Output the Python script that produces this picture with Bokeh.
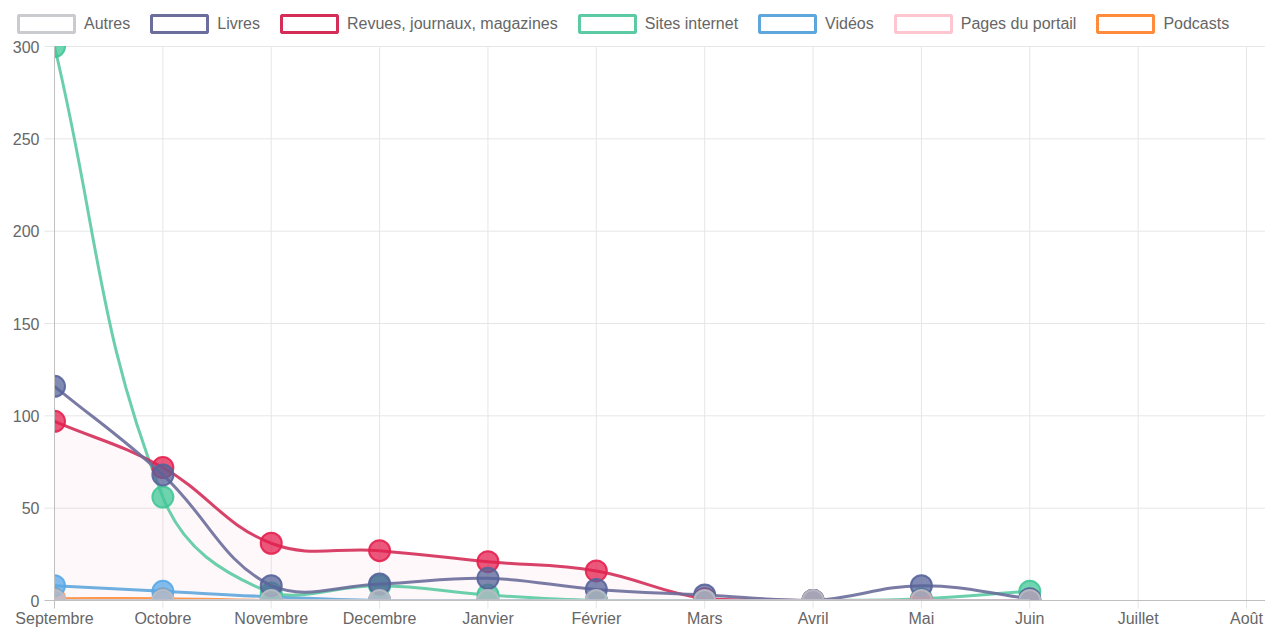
import numpy as np
from bokeh.plotting import figure
from bokeh.models import Range1d, Legend, LegendItem, ColumnDataSource
from bokeh.core.properties import value
from bokeh.embed import file_html
from bokeh.resources import INLINE

# ---------------- data ----------------
months = ["Septembre", "Octobre", "Novembre", "Decembre", "Janvier", "Février",
          "Mars", "Avril", "Mai", "Juin", "Juillet", "Août"]
series_names = ["Autres", "Livres", "Revues, journaux, magazines", "Sites internet",
                "Vidéos", "Pages du portail", "Podcasts"]
autres = [0, 0, 0, 0, 0, 0, 0, 0, 0, 0]
livres = [116, 68, 8, 9, 12, 6, 3, 0, 8, 1]
revues = [97, 72, 31, 27, 21, 16, 1, 0, 0, 0]
sites = [300, 56, 4, 8, 3, 0, 0, 0, 1, 5]
videos = [8, 5, 2, 0, 0, 0, 0, 0, 0, 0]
pages = [0, 0, 0, 0, 0, 0, 0, 0, 0, 0]
podcasts = [1, 1, 0, 0, 0, 0, 0, 0, 0, 0]
y_ticks = [0, 50, 100, 150, 200, 250, 300]
y_tick_labels = ["0", "50", "100", "150", "200", "250", "300"]

series_values = [autres, livres, revues, sites, videos, pages, podcasts]
line_colors = ["#c9cbcf", "#6b6d9a", "#d42d58", "#5ccaa3", "#5fa6dc", "#ffc6d0", "#ff8c3c"]
point_colors = ["#b9bcc4", "#56639a", "#e4204f", "#40c797", "#58a8e8", "#ffbfcb", "#ff8a36"]

# ---------------- layout (pixels) ----------------
W, H = 1265, 628
AREA_L, AREA_T, AREA_B = 54, 46, 600      # chart area edges
STEP = (1246 - AREA_L) / 11               # px per category
YMAX = 300.0
SX = STEP
SY = (AREA_B - AREA_T) / YMAX
TENSION = 0.4
XMAX = (W - AREA_L) / SX

x_start, x_end = -AREA_L / SX, XMAX
y_start, y_end = -(H - AREA_B) / SY, YMAX + AREA_T / SY

p = figure(width=W, height=H, output_backend="svg", toolbar_location=None,
           x_range=Range1d(x_start, x_end), y_range=Range1d(y_start, y_end),
           x_axis_type=None, y_axis_type=None,
           min_border_left=0, min_border_right=0, min_border_top=0, min_border_bottom=0)
p.outline_line_color = None
p.background_fill_color = "white"
p.border_fill_color = "white"

font = "Liberation Sans"
GRID = "#e6e6e6"
ZERO = "#c0c0c0"
xs_idx = list(range(len(months)))

# grid lines inside the chart area
p.segment(x0=xs_idx[1:], y0=0, x1=xs_idx[1:], y1=YMAX, line_color=GRID, line_width=1)
p.segment(x0=0, y0=y_ticks[1:], x1=XMAX, y1=y_ticks[1:], line_color=GRID, line_width=1)


def controls(vals):
    n = len(vals)
    xs = np.arange(n, dtype=float)
    ys = np.array(vals, dtype=float)
    prev_c, next_c = [], []
    for i in range(n):
        a, b = max(i - 1, 0), min(i + 1, n - 1)
        d01 = np.hypot((xs[i] - xs[a]) * SX, (ys[i] - ys[a]) * SY)
        d12 = np.hypot((xs[b] - xs[i]) * SX, (ys[b] - ys[i]) * SY)
        tot = d01 + d12
        s01 = d01 / tot if tot else 0.0
        s12 = d12 / tot if tot else 0.0
        dx, dy = xs[b] - xs[a], ys[b] - ys[a]
        pc = [xs[i] - TENSION * s01 * dx, ys[i] - TENSION * s01 * dy]
        nc = [xs[i] + TENSION * s12 * dx, ys[i] + TENSION * s12 * dy]
        for c in (pc, nc):
            c[0] = min(max(c[0], 0.0), XMAX)
            c[1] = min(max(c[1], 0.0), YMAX)
        prev_c.append(pc)
        next_c.append(nc)
    return xs, ys, prev_c, next_c


def bezier_source(vals):
    xs, ys, pc, nc = controls(vals)
    n = len(xs)
    return ColumnDataSource(dict(
        x0=xs[:-1], y0=ys[:-1], x1=xs[1:], y1=ys[1:],
        cx0=[nc[i][0] for i in range(n - 1)], cy0=[nc[i][1] for i in range(n - 1)],
        cx1=[pc[i + 1][0] for i in range(n - 1)], cy1=[pc[i + 1][1] for i in range(n - 1)],
    ))


def sample_curve(vals, steps=30):
    xs, ys, pc, nc = controls(vals)
    t = np.linspace(0, 1, steps)
    ox, oy = [], []
    for i in range(len(xs) - 1):
        P0 = np.array([xs[i], ys[i]]); P3 = np.array([xs[i + 1], ys[i + 1]])
        P1 = np.array(nc[i]); P2 = np.array(pc[i + 1])
        pts = ((1 - t) ** 3)[:, None] * P0 + (3 * (1 - t) ** 2 * t)[:, None] * P1 \
            + (3 * (1 - t) * t ** 2)[:, None] * P2 + (t ** 3)[:, None] * P3
        ox.extend(pts[:, 0]); oy.extend(pts[:, 1])
    return np.array(ox), np.array(oy)


# faint fill under the "Revues" series
fx, fy = sample_curve(revues)
p.varea(x=fx, y1=np.zeros_like(fy), y2=fy, fill_color="#e0406a", fill_alpha=0.035)

# datasets, drawn in reverse order so the first one ends up on top
for idx in reversed(range(len(series_names))):
    vals = series_values[idx]
    p.bezier(x0="x0", y0="y0", x1="x1", y1="y1", cx0="cx0", cy0="cy0", cx1="cx1", cy1="cy1",
             source=bezier_source(vals), line_color=line_colors[idx], line_width=3, line_alpha=0.9)
    p.scatter(x=list(range(len(vals))), y=vals, size=21, marker="circle",
              fill_color=point_colors[idx], fill_alpha=0.75,
              line_color=point_colors[idx], line_alpha=0.9, line_width=2)

# white masks: clip everything to the chart area
ex, ey = 0.5 / SX, 0.5 / SY
p.quad(left=[x_start, x_start, x_start], right=[-ex, x_end, x_end],
       bottom=[y_start, y_start, YMAX + ey], top=[y_end, -ey, y_end],
       fill_color="white", line_color=None)

# tick marks and axis lines
TX, TY = 10 / SX, 8 / SY
p.segment(x0=-TX, y0=y_ticks[1:], x1=0, y1=y_ticks[1:], line_color=GRID, line_width=1)
p.segment(x0=xs_idx[1:], y0=-TY, x1=xs_idx[1:], y1=0, line_color=GRID, line_width=1)
p.segment(x0=[0, -TX], y0=[-TY, 0], x1=[0, XMAX], y1=[YMAX, 0], line_color=ZERO, line_width=1)

# tick labels
p.text(x=-(15 / SX), y=y_ticks, text=y_tick_labels, text_align="right", text_baseline="middle",
       text_font=value(font), text_font_size=value("16px"), text_color="#666666")
p.text(x=xs_idx, y=-(9 / SY), text=months, text_align="center", text_baseline="top",
       text_font=value(font), text_font_size=value("16px"), text_color="#666666")

# legend (boxes with coloured outline); proxy glyphs sit outside the visible ranges
items = []
for idx, name in enumerate(series_names):
    r = p.quad(left=[x_start - 5], right=[x_start - 4], bottom=[y_start - 5], top=[y_start - 4],
               fill_color="white", line_color=line_colors[idx], line_width=3)
    items.append(LegendItem(label=name, renderers=[r]))

legend = Legend(items=items, orientation="horizontal",
                location=(11, H - 34),
                glyph_width=70, glyph_height=21, label_height=21,
                label_standoff=3, spacing=14, padding=0, margin=0,
                label_text_font=font, label_text_font_size="16px",
                label_text_color="#666666",
                border_line_color=None, background_fill_alpha=0)
p.add_layout(legend, "center")

open("out.html", "w").write(file_html(p, INLINE))
